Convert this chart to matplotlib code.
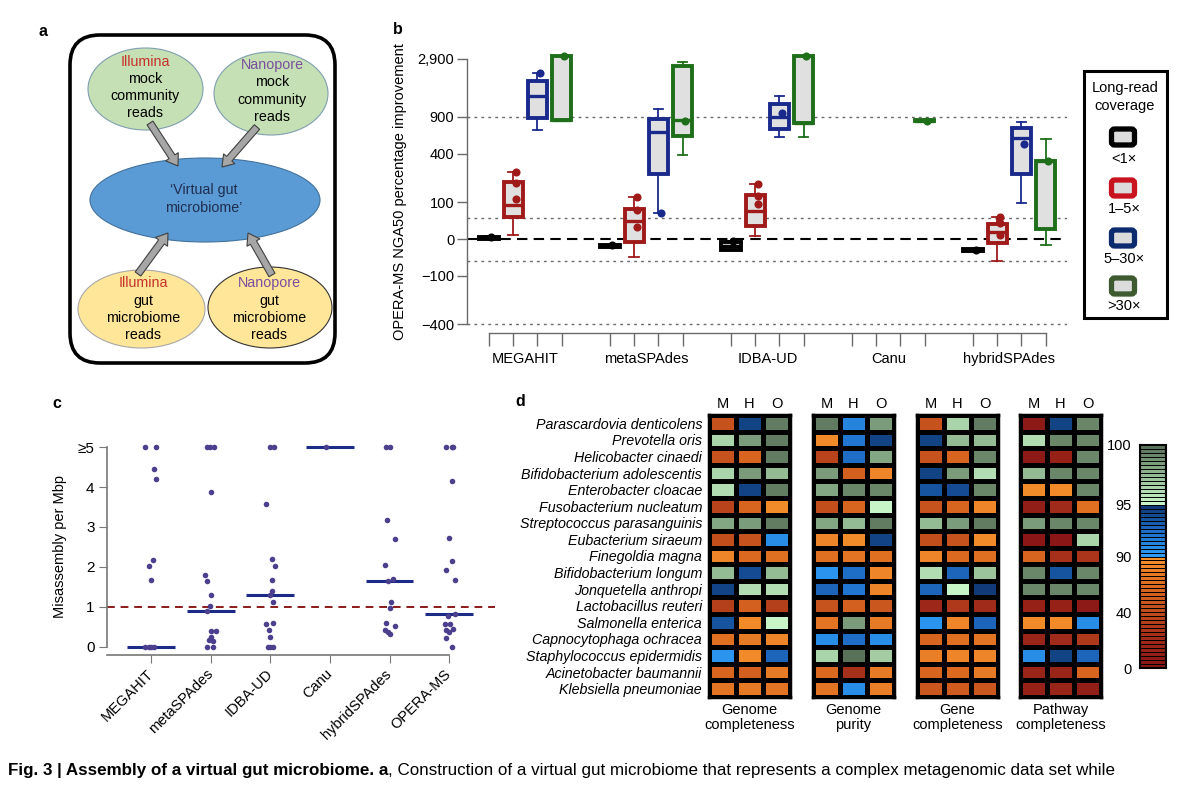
import numpy as np
import matplotlib
matplotlib.use('Agg')
import matplotlib.pyplot as plt
from matplotlib import font_manager
from matplotlib.patches import Ellipse, FancyBboxPatch, FancyArrow, Rectangle
from matplotlib.colors import ListedColormap, BoundaryNorm, LinearSegmentedColormap
from matplotlib.transforms import ScaledTranslation

# ---------------- data: panel b ----------------
b_assemblers = ['MEGAHIT', 'metaSPAdes', 'IDBA-UD', 'Canu', 'hybridSPAdes']
cov_classes = ['<1×', '1–5×', '5–30×', '>30×']
# [q1, median, q3, whisker low, whisker high] per assembler (None = absent)
b_lt1 = [[0, 2, 4, 0, 5], [-16, -14, -12, -16, -12], [-22, -13, -5, -22, -4], None, [-25, -23, -21, -25, -21]]
b_lt1_pts = [[3], [-11], [-4], [], [-23]]
b_1to5 = [[51, 89, 193, 8, 256], [-6, 40, 75, -41, 122], [28, 70, 130, 6, 181], None, [-7, 15, 33, -51, 52]]
b_1to5_pts = [[256, 190, 111], [122, 73, 25], [181, 125, 95], [], [52, 35, 8]]
b_5to30 = [[888, 1386, 1873, 682, 2180], [239, 648, 857, 64, 1056], [693, 906, 1179, 581, 1386], None,
           [239, 568, 708, 97, 810]]
b_5to30_pts = [[2180], [64], [984], [], [501]]
b_gt30 = [[844, 844, 3050, 844, 3050], [598, 844, 2534, 388, 2725], [788, 788, 3050, 590, 3050],
          [820, 833, 846, 820, 846], [20, 336, 336, -11, 555]]
b_gt30_pts = [[3050], [830], [3050], [833], [336]]
b_yticks = [-400, -100, 0, 100, 400, 900, 2900]
b_yticklabels = ['\u2212400', '\u2212100', '0', '100', '400', '900', '2,900']
b_reflines = [900, 50, -50, -400]

# ---------------- data: panel c ----------------
c_assemblers = ['MEGAHIT', 'metaSPAdes', 'IDBA-UD', 'Canu', 'hybridSPAdes', 'OPERA-MS']
c_megahit = [5, 5, 4.44, 4.21, 2.18, 2.03, 1.68, 0, 0, 0, 0]
c_metaspades = [5, 5, 5, 3.88, 1.79, 1.64, 1.29, 1.02, 0.89, 0.4, 0.4, 0.25, 0.17, 0.15, 0, 0]
c_idba = [5, 5, 3.58, 2.21, 2.02, 1.67, 1.39, 1.29, 1.13, 0.57, 0.6, 0.43, 0.25, 0, 0, 0]
c_canu = [5]
c_hybrid = [5, 5, 3.17, 2.69, 2.04, 1.64, 1.69, 1.13, 0.98, 0.61, 0.53, 0.42, 0.38, 0.33]
c_opera = [5, 5, 5, 4.15, 2.73, 2.16, 1.93, 1.68, 0.83, 0.77, 0.58, 0.58, 0.45, 0.42, 0.38, 0.23, 0]
c_medians = [0, 0.9, 1.3, 5, 1.65, 0.83]
# horizontal jitter of the dots (as drawn in the reference)
c_jit_megahit = [-0.095, 0.09, 0.056, 0.09, 0.04, -0.034, -0.01, -0.095, -0.04, 0.005, 0.056]
c_jit_metaspades = [-0.067, -0.01, 0.06, 0.01, -0.095, -0.056, 0.01, -0.017, -0.056, 0.01, 0.095, 0, -0.03,
                    0.04, -0.07, 0.04]
c_jit_idba = [0, 0.06, -0.073, 0.03, 0.08, 0.03, 0.03, 0, 0.045, -0.067, 0.05, -0.02, -0.01, -0.045, 0, 0.05]
c_jit_canu = [-0.073]
c_jit_hybrid = [-0.056, 0, -0.034, 0.1, -0.084, -0.028, 0.056, 0.022, 0.006, -0.067, 0.095, -0.073, -0.028, 0.01]
c_jit_opera = [-0.045, 0.056, 0.072, 0.056, 0, 0.05, -0.05, 0.1, 0.095, -0.026, -0.062, 0.01, 0.067, -0.045, 0,
               -0.056, 0.05]

# ---------------- data: panel d ----------------
species = ['Parascardovia denticolens', 'Prevotella oris', 'Helicobacter cinaedi', 'Bifidobacterium adolescentis',
           'Enterobacter cloacae', 'Fusobacterium nucleatum', 'Streptococcus parasanguinis', 'Eubacterium siraeum',
           'Finegoldia magna', 'Bifidobacterium longum', 'Jonquetella anthropi', 'Lactobacillus reuteri',
           'Salmonella enterica', 'Capnocytophaga ochracea', 'Staphylococcus epidermidis',
           'Acinetobacter baumannii', 'Klebsiella pneumoniae']
methods_d = ['M', 'H', 'O']
genome_completeness = [
    [45, 94.5, 99.5], [96.5, 98.5, 99.5], [45, 58, 99.5], [96.5, 98.5, 97.5], [96, 94.5, 99.5],
    [35, 58, 85], [98, 98.5, 99.5], [42, 45, 91], [82, 62, 65], [97.5, 94, 97.5], [94.5, 96, 96.3],
    [32, 55, 32], [93.5, 85, 95.3], [65, 75, 80], [90.5, 85, 93], [58, 55, 75], [72, 75, 72]]
genome_purity = [
    [99.5, 91.5, 98.5], [85, 92, 94.5], [35, 92.5, 98], [98.5, 55, 80], [98, 99, 99.3],
    [42, 58, 95.3], [98, 97.5, 99.5], [82, 85, 94.5], [68, 72, 65], [90.5, 92.5, 82], [93, 92, 82],
    [45, 55, 50], [72, 98.5, 75], [91, 92.5, 90.8], [96.5, 99.7, 96.8], [62, 25, 75], [70, 91, 78]]
gene_completeness = [
    [45, 96.5, 99.5], [94.5, 97.5, 97.5], [45, 60, 99.3], [94.5, 98.5, 96], [93.5, 94, 99.3],
    [45, 58, 82], [97.5, 98.5, 99.5], [40, 45, 85], [82, 62, 65], [96, 93, 97], [93, 95.3, 94.7],
    [18, 30, 22], [90.5, 80, 93], [60, 65, 70], [78, 82, 80], [58, 62, 75], [50, 52, 48]]
pathway_completeness = [
    [8, 94.5, 99], [96, 99, 99], [8, 12, 99], [97.5, 99, 99], [85, 85, 99],
    [10, 20, 65], [98.5, 99, 99], [5, 3, 96.5], [60, 25, 28], [99, 93.5, 99], [99, 99, 99.2],
    [12, 12, 6], [85, 85, 91], [15, 22, 30], [91, 94.5, 93], [15, 15, 60], [12, 15, 10]]
hm_titles = ['Genome\ncompleteness', 'Genome\npurity', 'Gene\ncompleteness', 'Pathway\ncompleteness']
cb_ticks = [0, 40, 90, 95, 100]

# ---------------- figure ----------------
plt.rcParams['font.family'] = ['Liberation Sans', 'DejaVu Sans']
W, H = 1200, 786
fig = plt.figure(figsize=(W / 100, H / 100), dpi=100)


def fax(x0, y0, x1, y1, **kw):
    return fig.add_axes([x0 / W, 1 - y1 / H, (x1 - x0) / W, (y1 - y0) / H], **kw)


ov = fax(0, 0, W, H)
ov.set_xlim(0, W)
ov.set_ylim(H, 0)
ov.axis('off')

# panel labels
for lab, (x, y) in zip('abcd', [(43, 31), (398, 30), (57, 403), (520, 402)]):
    ov.text(x, y, lab, fontsize=11.5, weight='bold', ha='center', va='center')

# ---------------- panel a (diagram) ----------------
RED_T = '#c8302a'
PUR_T = '#7a4f9f'
ov.add_patch(FancyBboxPatch((70, 35), 265, 328, boxstyle='round,pad=0,rounding_size=30',
                            fc='white', ec='black', lw=2.6))
ov.add_patch(Ellipse((145.5, 89), 115, 82, fc='#c5e0b4', ec='#7f9fb0', lw=0.8))
ov.add_patch(Ellipse((271, 93.5), 114, 83, fc='#c5e0b4', ec='#7f9fb0', lw=0.8))
ov.add_patch(Ellipse((205, 200), 230, 84, fc='#5b9bd5', ec='#41719c', lw=0.8))
ov.add_patch(Ellipse((141.5, 309), 127, 78, fc='#ffe699', ec='#a8a8a8', lw=0.8))
ov.add_patch(Ellipse((270, 307.5), 124, 81, fc='#ffe699', ec='#333333', lw=0.8))
for (x0, y0, x1, y1) in [(150, 123, 178, 166), (257, 127, 222, 167), (138, 274, 168, 233), (272, 275, 248, 233)]:
    ov.add_patch(FancyArrow(x0, y0, x1 - x0, y1 - y0, width=7, head_width=15, head_length=11,
                            length_includes_head=True, fc='#a6a6a6', ec='#404040', lw=0.8))
a_texts = [
    (145, [('Illumina', RED_T, 62), ('mock', 'k', 79), ('community', 'k', 96), ('reads', 'k', 113)]),
    (272, [('Nanopore', PUR_T, 65), ('mock', 'k', 82), ('community', 'k', 100), ('reads', 'k', 117)]),
    (204, [('\u2018Virtual gut', '#1f2d4f', 190), ('microbiome\u2019', '#1f2d4f', 208)]),
    (143, [('Illumina', RED_T, 283), ('gut', 'k', 301), ('microbiome', 'k', 318), ('reads', 'k', 335)]),
    (269, [('Nanopore', PUR_T, 283), ('gut', 'k', 301), ('microbiome', 'k', 318), ('reads', 'k', 335)]),
]
for x, lines in a_texts:
    for s, c, y in lines:
        ov.text(x, y, s, color=c, fontsize=10.3, ha='center', va='center')

# ---------------- panel b ----------------
def fwd(y):
    y = np.asarray(y, float)
    return np.sign(y) * np.log10(1 + np.abs(y) / 100)


def inv(t):
    t = np.asarray(t, float)
    return np.sign(t) * (10 ** np.abs(t) - 1) * 100


axb = fax(467, 50, 1067, 333)
axb.patch.set_alpha(0)
axb.set_yscale('function', functions=(fwd, inv))
axb.set_xlim(-0.909, 23.88)
axb.set_ylim(float(inv(-0.770)), float(inv(1.549)))

GRAYS = '#6a6a6a'
for yv in b_reflines:
    axb.axhline(yv, color=GRAYS, lw=1.0, ls=(0, (2, 3)), zorder=1)
axb.axhline(0, color='black', lw=1.5, ls=(0, (5, 3)), zorder=1)

b_colors = ['#000000', '#a01a1a', '#1a2a8c', '#1f6e1a']
b_sets = [(b_lt1, b_lt1_pts), (b_1to5, b_1to5_pts), (b_5to30, b_5to30_pts), (b_gt30, b_gt30_pts)]
for k, ((boxes, pts), col) in enumerate(zip(b_sets, b_colors)):
    stats, pos = [], []
    for g, bx in enumerate(boxes):
        if bx is None:
            continue
        q1, med, q3, lo, hi = bx
        stats.append(dict(q1=q1, med=med, q3=q3, whislo=lo, whishi=hi, fliers=[]))
        pos.append(g * 5 + k)
    axb.bxp(stats, positions=pos, widths=0.8, patch_artist=True, showfliers=False, manage_ticks=False,
            capwidths=0.4,
            boxprops=dict(facecolor='#e0e0e0', edgecolor=col, linewidth=2.8),
            medianprops=dict(color=col, linewidth=2.4, solid_capstyle='butt'),
            whiskerprops=dict(color=col, linewidth=1.3),
            capprops=dict(color=col, linewidth=1.3), zorder=3)
    for g, p in enumerate(pts):
        if p:
            axb.scatter(np.full(len(p), g * 5 + k + 0.1), p, s=34, color=col, zorder=5, linewidths=0)

axb.set_yticks(b_yticks)
axb.set_yticklabels(b_yticklabels)
axb.minorticks_off()
box_pos = [g * 5 + k for g in range(5) for k in range(4)]
axb.set_xticks(box_pos)
axb.set_xticks([g * 5 + 1.5 for g in range(5)], minor=True)
axb.set_xticklabels(b_assemblers, minor=True)
axb.tick_params(axis='x', which='major', length=9, color=GRAYS, labelbottom=False, width=1)
axb.tick_params(axis='x', which='minor', length=0, pad=14, labelsize=10.5)
axb.tick_params(axis='y', length=7, pad=2, color=GRAYS, labelsize=10.5, width=1)
axb.spines['top'].set_visible(False)
axb.spines['right'].set_visible(False)
axb.spines['left'].set_bounds(-400, 2900)
axb.spines['bottom'].set_bounds(0, 23)
for s in ('left', 'bottom'):
    axb.spines[s].set_color(GRAYS)
    axb.spines[s].set_linewidth(1)
axb.set_ylabel('OPERA-MS NGA50 percentage improvement', fontsize=10.5)
axb.yaxis.set_label_coords(-0.1, 0.5)

# legend box
ov.add_patch(Rectangle((1084, 71), 83, 247, fc='white', ec='black', lw=2.2))
ov.text(1125, 88, 'Long-read', fontsize=10.5, ha='center', va='center')
ov.text(1125, 106, 'coverage', fontsize=10.5, ha='center', va='center')
leg_cols = ['#000000', '#c8141e', '#0c2a6e', '#3d5a30']
for lab, col, yi, yl in zip(cov_classes, leg_cols, [137, 188, 238, 286], [159, 209, 259, 306]):
    ov.add_patch(FancyBboxPatch((1123 - 11.5, yi - 8), 23, 16, boxstyle='round,pad=0,rounding_size=3',
                                fc='#dcdcdc', ec=col, lw=3.8))
    ov.text(1124, yl, lab, fontsize=10.5, ha='center', va='center')

# ---------------- panel c ----------------
axc = fax(107, 440, 495, 655)
axc.patch.set_alpha(0)
axc.set_xlim(-0.74, 5.77)
axc.set_ylim(-0.2, 5.175)
DOT = '#4b3f8e'
c_vals = [c_megahit, c_metaspades, c_idba, c_canu, c_hybrid, c_opera]
c_jits = [c_jit_megahit, c_jit_metaspades, c_jit_idba, c_jit_canu, c_jit_hybrid, c_jit_opera]
axc.axhline(1, color='#8b1a1a', lw=1.4, ls=(0, (4, 3)), zorder=1)
for i, (vals, jit, med) in enumerate(zip(c_vals, c_jits, c_medians)):
    axc.scatter(i + np.array(jit), vals, s=16, color=DOT, zorder=3, linewidths=0)
    axc.plot([i - 0.4, i + 0.4], [med, med], color='#1c2a88', lw=2.2, zorder=2, solid_capstyle='butt')
axc.set_yticks([0, 1, 2, 3, 4, 5])
axc.set_yticklabels(['0', '1', '2', '3', '4', '\u22655'])
axc.set_xticks(range(6))
axc.set_xticklabels(c_assemblers, rotation=45, ha='right', va='center', rotation_mode='anchor')
shift = ScaledTranslation(4 / 100, 0, fig.dpi_scale_trans)
for lbl in axc.get_xticklabels():
    lbl.set_transform(lbl.get_transform() + shift)
axc.tick_params(axis='x', length=6, pad=6, color='#777777', labelsize=10.5)
axc.tick_params(axis='y', length=6, pad=3, color='#777777', labelsize=11)
axc.spines['top'].set_visible(False)
axc.spines['right'].set_visible(False)
axc.spines['left'].set_bounds(0, 5)
axc.spines['bottom'].set_bounds(-0.74, 5)
for s in ('left', 'bottom'):
    axc.spines[s].set_color('#777777')
    axc.spines[s].set_linewidth(1.2)
axc.set_ylabel('Misassembly per Mbp', fontsize=10.5)
axc.yaxis.set_label_coords((67 - 107) / 388, (655 - 547) / 215)

# ---------------- panel d ----------------
bounds = np.concatenate([np.linspace(0, 40, 15), np.linspace(40, 90, 15)[1:],
                         np.linspace(90, 95, 14)[1:], np.linspace(95, 100, 16)[1:]])
red_cm = LinearSegmentedColormap.from_list('r', [(0, '#861414'), (0.25, '#a02a1a'), (0.5, '#c04c1c'),
                                                 (0.75, '#dc6a20'), (1.0, '#f5902c')])
blue_cm = LinearSegmentedColormap.from_list('b', ['#2c9cf5', '#1e6ec8', '#103a78'])
green_cm = LinearSegmentedColormap.from_list('g', ['#c8f5c8', '#94bc94', '#5a725a'])
band_colors = np.vstack([red_cm(np.linspace(0, 1, 28)), blue_cm(np.linspace(0, 1, 13)),
                         green_cm(np.linspace(0, 1, 15))])
cmap = ListedColormap(band_colors)
norm = BoundaryNorm(bounds, cmap.N)

hm_data = [genome_completeness, genome_purity, gene_completeness, pathway_completeness]
for i, (x0, vals, title) in enumerate(zip([709, 813, 917, 1020], hm_data, hm_titles)):
    ax = fax(x0, 415, x0 + 81, 697)
    ax.set_facecolor('black')
    ax.pcolormesh(np.array(vals), cmap=cmap, norm=norm, edgecolors='black', linewidth=2.2)
    ax.set_xlim(0, 3)
    ax.set_ylim(17, 0)
    ax.xaxis.tick_top()
    ax.set_xticks([0.5, 1.5, 2.5])
    ax.set_xticklabels(methods_d)
    ax.tick_params(axis='x', length=0, pad=3, labelsize=10.5)
    if i == 0:
        ax.set_yticks(np.arange(17) + 0.5)
        ax.set_yticklabels(species, fontstyle='italic')
        ax.tick_params(axis='y', length=0, pad=5, labelsize=10.3)
    else:
        ax.set_yticks([])
    for s in ax.spines.values():
        s.set_linewidth(2.5)
    ax.text(0.5, -0.02, title, transform=ax.transAxes, ha='center', va='top', fontsize=10.5,
            linespacing=1.15)

axcb = fax(1140, 445, 1166, 668)
nb = len(band_colors)
axcb.pcolormesh([0, 1], np.arange(nb + 1), np.arange(nb).reshape(-1, 1), cmap=ListedColormap(band_colors),
                vmin=-0.5, vmax=nb - 0.5, edgecolors='black', linewidth=0.6)
axcb.set_xlim(0, 1)
axcb.set_ylim(0, nb)
axcb.set_xticks([])
axcb.set_yticks([int(np.argmin(np.abs(bounds - v))) for v in cb_ticks])
axcb.set_yticklabels([str(v) for v in cb_ticks])
axcb.tick_params(axis='y', length=0, pad=6, labelsize=10.5)
for s in axcb.spines.values():
    s.set_linewidth(1.5)

# ---------------- caption ----------------
names = {f.name for f in font_manager.fontManager.ttflist}
cap_family = 'Liberation Sans Narrow' if 'Liberation Sans Narrow' in names else 'Liberation Sans'
r = fig.canvas.get_renderer()
cap_bold = 'Fig. 3 | Assembly of a virtual gut microbiome. a'
cap_rest = ', Construction of a virtual gut microbiome that represents a complex metagenomic data set while'
t1 = fig.text(8 / W, 1 - 770 / H, cap_bold, fontsize=12, weight='bold', family=cap_family, va='center')
t2 = fig.text(0, 1 - 770 / H, cap_rest, fontsize=12, family=cap_family, va='center')
wtot = t1.get_window_extent(r).width + t2.get_window_extent(r).width
fs = 12 * 1102 / wtot
t1.set_fontsize(fs)
t2.set_fontsize(fs)
t2.set_x(t1.get_window_extent(r).x1 / W)

fig.savefig('out.png', dpi=100)
